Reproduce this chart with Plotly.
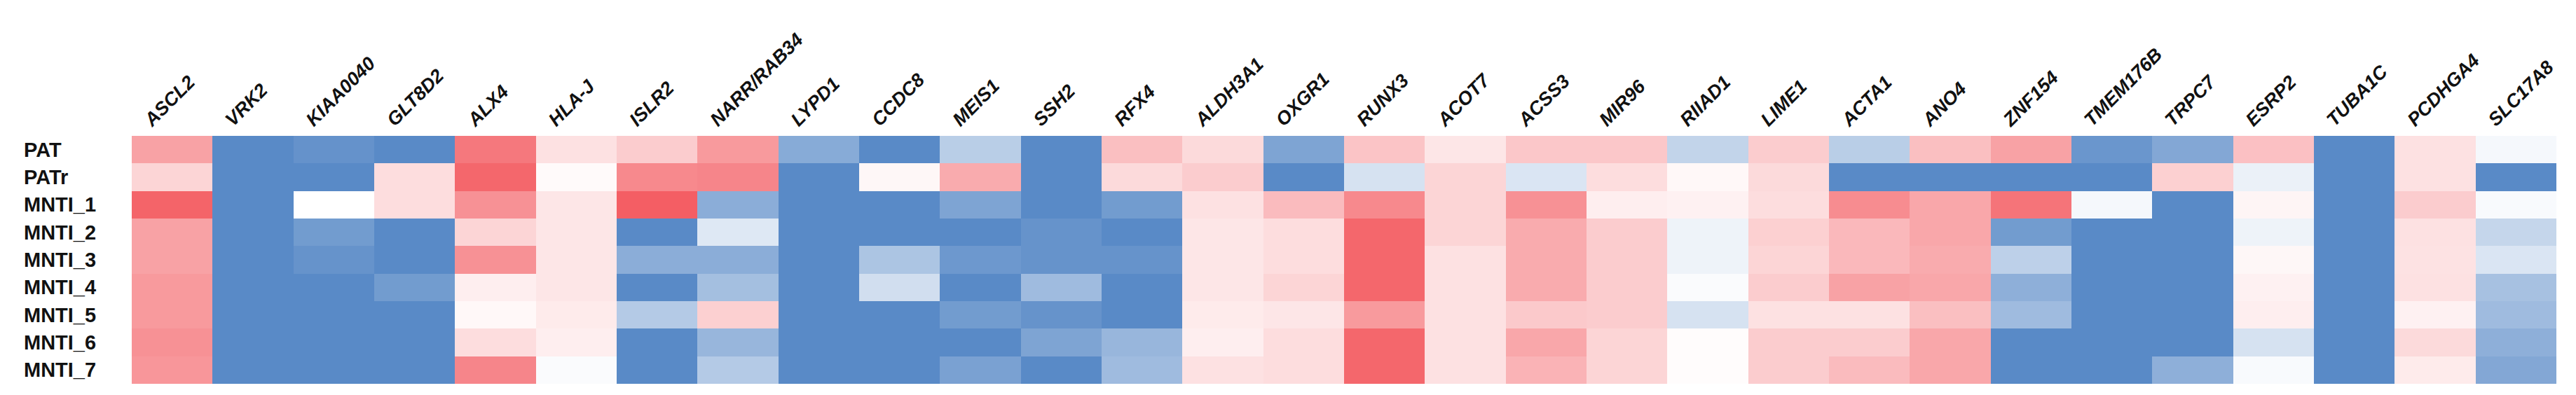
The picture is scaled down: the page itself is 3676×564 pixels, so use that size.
import plotly.graph_objects as go

genes = ["ASCL2", "VRK2", "KIAA0040", "GLT8D2", "ALX4", "HLA-J", "ISLR2", "NARR/RAB34",
         "LYPD1", "CCDC8", "MEIS1", "SSH2", "RFX4", "ALDH3A1", "OXGR1", "RUNX3", "ACOT7",
         "ACSS3", "MIR96", "RIIAD1", "LIME1", "ACTA1", "ANO4", "ZNF154", "TMEM176B",
         "TRPC7", "ESRP2", "TUBA1C", "PCDHGA4", "SLC17A8"]

samples = ["PAT", "PATr", "MNTI_1", "MNTI_2", "MNTI_3", "MNTI_4", "MNTI_5", "MNTI_6", "MNTI_7"]

# one list per sample (row), values in gene order
PAT    = [0.55, -1, -0.93, -1, 0.80, 0.18, 0.30, 0.60, -0.72, -1, -0.42, -1, 0.38, 0.22, -0.78,
          0.35, 0.15, 0.33, 0.33, -0.37, 0.30, -0.42, 0.38, 0.55, -0.90, -0.75, 0.37, -1, 0.18, -0.06]
PATr   = [0.25, -1, -1, 0.20, 0.90, 0.03, 0.70, 0.72, -1, 0.05, 0.50, -1, 0.22, 0.30, -1,
          -0.25, 0.25, -0.22, 0.20, 0.04, 0.22, -1, -1, -1, -1, 0.28, -0.12, -1, 0.18, -1]
MNTI_1 = [0.92, -1, 0.0, 0.20, 0.65, 0.15, 0.95, -0.70, -1, -1, -0.78, -1, -0.85, 0.18, 0.40,
          0.70, 0.25, 0.65, 0.10, 0.08, 0.20, 0.68, 0.52, 0.82, -0.06, -1, 0.06, -1, 0.30, -0.04]
MNTI_2 = [0.55, -1, -0.85, -1, 0.25, 0.15, -1, -0.20, -1, -1, -1, -0.92, -1, 0.15, 0.20,
          0.90, 0.25, 0.50, 0.30, -0.10, 0.28, 0.42, 0.52, -0.85, -1, -1, -0.10, -1, 0.18, -0.35]
MNTI_3 = [0.55, -1, -0.92, -1, 0.65, 0.15, -0.70, -0.70, -1, -0.50, -0.88, -0.92, -0.92, 0.15, 0.20,
          0.90, 0.18, 0.50, 0.30, -0.10, 0.25, 0.42, 0.50, -0.40, -1, -1, 0.05, -1, 0.17, -0.22]
MNTI_4 = [0.60, -1, -1, -0.85, 0.10, 0.15, -1, -0.55, -1, -0.28, -1, -0.58, -1, 0.15, 0.25,
          0.90, 0.18, 0.50, 0.30, -0.03, 0.30, 0.55, 0.52, -0.68, -1, -1, 0.08, -1, 0.18, -0.53]
MNTI_5 = [0.60, -1, -1, -1, 0.04, 0.12, -0.45, 0.28, -1, -1, -0.85, -0.92, -1, 0.12, 0.15,
          0.60, 0.18, 0.32, 0.30, -0.25, 0.18, 0.18, 0.38, -0.58, -1, -1, 0.10, -1, 0.08, -0.58]
MNTI_6 = [0.65, -1, -1, -1, 0.20, 0.10, -1, -0.62, -1, -1, -1, -0.78, -0.62, 0.10, 0.20,
          0.90, 0.18, 0.52, 0.25, 0.02, 0.30, 0.30, 0.52, -1, -1, -1, -0.25, -1, 0.22, -0.68]
MNTI_7 = [0.62, -1, -1, -1, 0.72, -0.03, -1, -0.45, -1, -1, -0.80, -1, -0.58, 0.18, 0.20,
          0.90, 0.18, 0.45, 0.25, 0.02, 0.30, 0.40, 0.52, -1, -1, -0.68, -0.04, -1, 0.12, -0.75]

z = [PAT, PATr, MNTI_1, MNTI_2, MNTI_3, MNTI_4, MNTI_5, MNTI_6, MNTI_7]

colorscale = [[0.0, "rgb(89,138,199)"], [0.5, "rgb(255,255,255)"], [1.0, "rgb(243,86,92)"]]

fig = go.Figure(go.Heatmap(
    z=z, x=genes, y=samples, zmin=-1, zmax=1,
    colorscale=colorscale, showscale=False, hoverongaps=False,
))

W, H = 3676, 564
ml, mr, mt, mb = 180, 36, 186, 24
plot_w = W - ml - mr

fig.update_layout(
    width=W, height=H,
    margin=dict(l=ml, r=mr, t=mt, b=mb, pad=0),
    paper_bgcolor="white", plot_bgcolor="white",
    font=dict(family="Liberation Sans, Arial", color="black"),
    xaxis=dict(side="top", tickangle=-45, showgrid=False, zeroline=False, showline=False,
               ticks="", ticklen=0, ticklabelshift=-38, ticklabelstandoff=2,
               tickfont=dict(family="Liberation Sans, Arial", size=27, weight="bold",
                             style="italic", color="#111111")),
    yaxis=dict(autorange="reversed", showticklabels=False, showgrid=False, zeroline=False,
               showline=False, ticks=""),
)

label_x = (24 - ml) / plot_w
for s in samples:
    fig.add_annotation(x=label_x, xref="paper", y=s, yref="y", text=s, showarrow=False,
                       xanchor="left", yanchor="middle",
                       font=dict(family="Liberation Sans, Arial", size=29, weight="bold",
                                 color="#111111"))

fig.write_html("out.html")
